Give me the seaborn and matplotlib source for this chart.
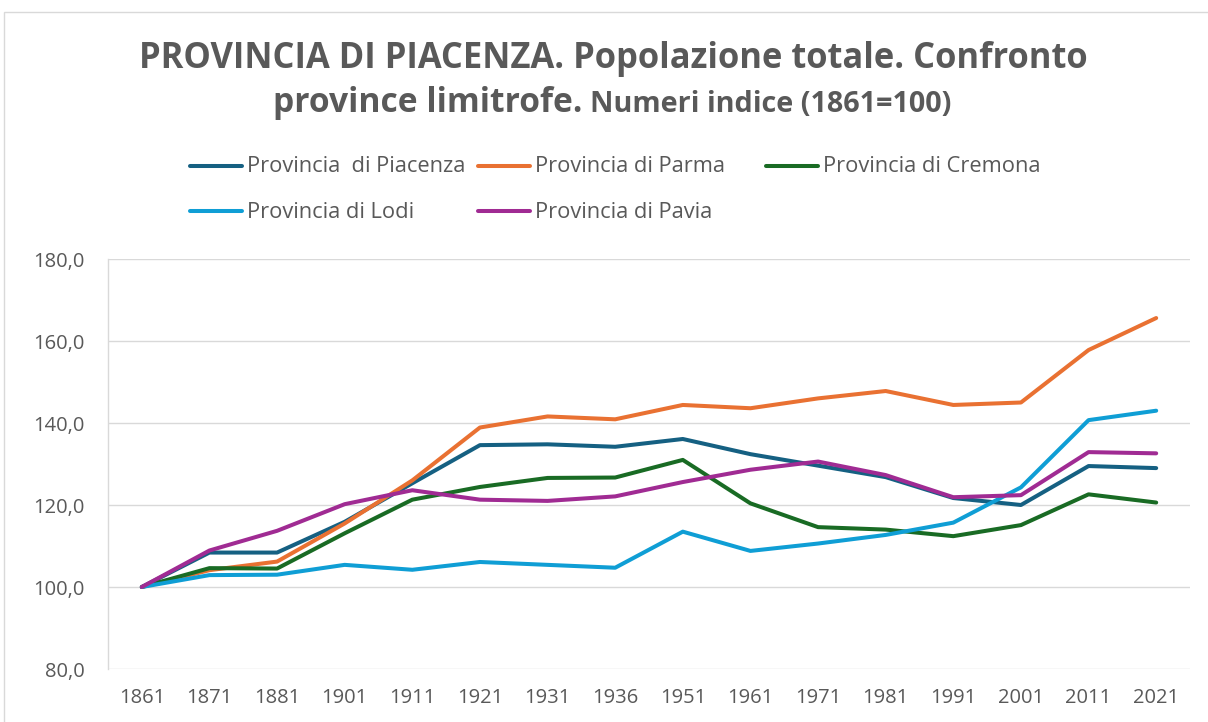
import numpy as np
import pandas as pd
import seaborn as sns
import matplotlib
matplotlib.use("Agg")
import matplotlib.pyplot as plt
from matplotlib.lines import Line2D
from matplotlib.patches import Rectangle

years = ["1861", "1871", "1881", "1901", "1911", "1921", "1931", "1936",
         "1951", "1961", "1971", "1981", "1991", "2001", "2011", "2021"]
piacenza = [100.0, 108.4, 108.4, 115.9, 125.3, 134.6, 134.8, 134.2, 136.1, 132.4, 129.6, 126.8, 121.7, 120.0, 129.5, 129.0]
parma    = [100.0, 104.1, 106.2, 115.5, 126.0, 138.9, 141.6, 140.9, 144.4, 143.6, 146.0, 147.8, 144.4, 145.0, 157.8, 165.6]
cremona  = [100.0, 104.6, 104.5, 113.1, 121.3, 124.4, 126.6, 126.7, 131.0, 120.4, 114.6, 114.0, 112.4, 115.1, 122.6, 120.6]
lodi     = [100.0, 102.9, 103.0, 105.4, 104.2, 106.1, 105.4, 104.7, 113.5, 108.8, 110.6, 112.7, 115.7, 124.3, 140.7, 143.0]
pavia    = [100.0, 108.9, 113.7, 120.2, 123.6, 121.3, 121.0, 122.1, 125.6, 128.6, 130.6, 127.3, 121.9, 122.4, 132.9, 132.6]

labels = ["Provincia  di Piacenza", "Provincia di Parma", "Provincia di Cremona",
          "Provincia di Lodi", "Provincia di Pavia"]
colors = ["#156082", "#E97132", "#196B24", "#0F9ED5", "#A02B93"]

series = [piacenza, parma, cremona, lodi, pavia]
df = pd.concat([pd.DataFrame({"anno": years, "valore": s, "serie": lab})
                for s, lab in zip(series, labels)], ignore_index=True)
df["pos"] = df["anno"].map({y: i for i, y in enumerate(years)})

sns.set_theme(style="white")
plt.rcParams["font.family"] = ["Open Sans", "DejaVu Sans"]
TXT = "#595959"
GRID = "#D9D9D9"
LW = 2.9

fig = plt.figure(figsize=(12.08, 7.22), dpi=100)
W, H = 1208, 722
ax = fig.add_axes([108 / W, 1 - 669 / H, (1190 - 108) / W, (669 - 259) / H])

sns.lineplot(data=df, x="pos", y="valore", hue="serie", hue_order=labels,
             palette=colors, linewidth=LW, ax=ax, legend=False, sort=False)

ax.set_xlim(-0.5, len(years) - 0.5)
ax.set_ylim(80, 180)
ax.set_xticks(range(len(years)))
ax.set_xticklabels(years)
yt = [80, 100, 120, 140, 160, 180]
ax.set_yticks(yt)
ax.set_yticklabels([f"{v:.1f}".replace(".", ",") for v in yt])
ax.tick_params(axis="both", length=0, labelsize=14.5, colors=TXT)
ax.tick_params(axis="y", pad=17)
ax.tick_params(axis="x", pad=14)
ax.set_xlabel("")
ax.set_ylabel("")
for v in yt:
    ax.axhline(v, color=GRID, lw=1.0, zorder=0)
for s in ["top", "right", "bottom"]:
    ax.spines[s].set_visible(False)
ax.spines["left"].set_color(GRID)
ax.spines["left"].set_linewidth(1.0)

# outer frame
fig.add_artist(Rectangle((4 / W, -0.2), 1.2, 1.2 - 12 / H, transform=fig.transFigure,
                         fill=False, edgecolor=GRID, lw=1.0))

r = fig.canvas.get_renderer()

def fit(t, target):
    w = t.get_window_extent(r).width
    t.set_fontsize(t.get_fontsize() * target / w)

# title
tt = fig.text(613.5 / W, 1 - 68 / H, "PROVINCIA DI PIACENZA. Popolazione totale. Confronto",
              ha="center", va="baseline", fontsize=22, fontweight="bold", color=TXT)
fit(tt, 947)
t1 = fig.text(273 / W, 1 - 112 / H, "province limitrofe.", ha="left", va="baseline",
              fontsize=tt.get_fontsize(), fontweight="bold", color=TXT)
fit(t1, 310)
w1 = t1.get_window_extent(r).width
t2 = fig.text((273 + w1 + 8) / W, 1 - 112 / H, "Numeri indice (1861=100)", ha="left",
              va="baseline", fontsize=16, fontweight="bold", color=TXT)
fit(t2, 362)

# legend
cols = [190, 478, 766]
lines_y = [166, 211]
base_y = [171.5, 217.5]
for i, (lab, c) in enumerate(zip(labels, colors)):
    cx = cols[i % 3]
    row = i // 3
    fig.add_artist(Line2D([cx / W, (cx + 52) / W], [1 - lines_y[row] / H, 1 - lines_y[row] / H],
                          transform=fig.transFigure, color=c, lw=LW, solid_capstyle="round"))
    t = fig.text((cx + 57) / W, 1 - base_y[row] / H, lab, ha="left", va="baseline",
                 fontsize=14, color=TXT)
    if i == 0:
        fit(t, 220)
        legsize = t.get_fontsize()
    else:
        t.set_fontsize(legsize)

fig.savefig("out.png", dpi=100)
